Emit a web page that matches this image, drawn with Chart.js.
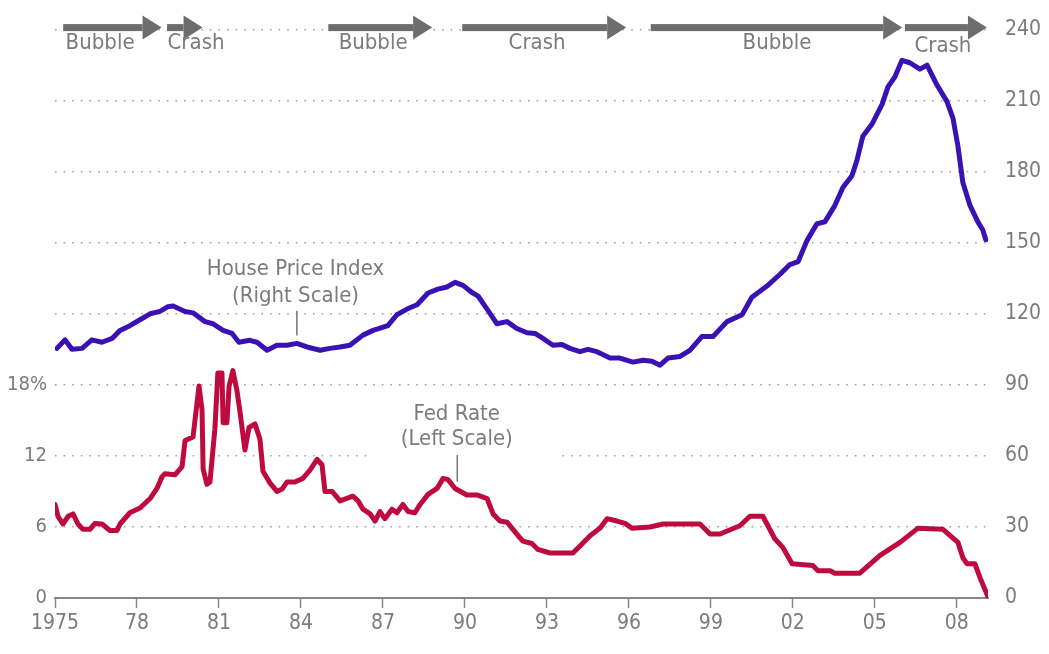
<!DOCTYPE html>
<html>
<head>
<meta charset="utf-8">
<script src="https://cdn.jsdelivr.net/npm/chart.js@4.4.1/dist/chart.umd.min.js"></script>
<style>
  body { margin: 0; background: #fff; }
  #wrap { width: 1049px; height: 654px; }
</style>
</head>
<body>
<div id="wrap"><canvas id="chart" width="1049" height="654"></canvas></div>
<script>
const tickYears = [1975, 1978, 1981, 1984, 1987, 1990, 1993, 1996, 1999, 2002, 2005, 2008];
const tickLabels = ["1975", "78", "81", "84", "87", "90", "93", "96", "99", "02", "05", "08"];
const leftTicks = [0, 6, 12, 18];
const leftTickLabels = ["0", "6", "12", "18%"];

// house price index, right scale
const hpiYears = [1975.07, 1975.37, 1975.62, 1975.99, 1976.35, 1976.72, 1977.09, 1977.38, 1977.74, 1978.11,
  1978.48, 1978.84, 1979.13, 1979.32, 1979.76, 1980.05, 1980.49, 1980.78, 1981.15, 1981.48,
  1981.73, 1982.13, 1982.39, 1982.76, 1983.12, 1983.49, 1983.85, 1984.22, 1984.70, 1985.06,
  1985.43, 1985.79, 1986.27, 1986.64, 1987.18, 1987.51, 1987.88, 1988.25, 1988.65, 1989.01,
  1989.34, 1989.64, 1989.93, 1990.26, 1990.48, 1990.81, 1991.17, 1991.54, 1991.90, 1992.27,
  1992.56, 1992.86, 1993.22, 1993.55, 1993.84, 1994.21, 1994.50, 1994.83, 1995.31, 1995.67,
  1996.15, 1996.52, 1996.84, 1997.14, 1997.43, 1997.87, 1998.23, 1998.67, 1999.08, 1999.59,
  2000.14, 2000.50, 2001.05, 2001.53, 2001.89, 2002.19, 2002.52, 2002.88, 2003.17, 2003.54,
  2003.83, 2004.16, 2004.34, 2004.56, 2004.89, 2005.26, 2005.48, 2005.73, 2005.99, 2006.28,
  2006.65, 2006.91, 2007.27, 2007.64, 2007.86, 2008.04, 2008.22, 2008.48, 2008.77, 2008.95, 2009.06];
const hpiValues = [105.4, 109, 105, 105.4, 109, 108, 109.6, 113, 115, 117.5,
  120, 121, 123, 123.3, 121, 120.4, 116.7, 115.8, 113, 111.7,
  108, 108.8, 108, 104.6, 106.7, 106.7, 107.5, 106, 104.6, 105.4,
  106, 106.7, 111, 113, 115, 119.6, 122, 123.8, 128.8, 130.4,
  131.3, 133.3, 132, 129, 127.5, 122, 115.8, 116.7, 113.8, 112,
  111.7, 109.6, 106.7, 107, 105.4, 104, 105, 104, 101.3, 101.3,
  99.6, 100.4, 100, 98.3, 101.3, 102, 104.6, 110.4, 110.4, 116.7,
  119.6, 127, 131.7, 136.7, 140.8, 142, 151, 158, 158.8, 165.8,
  173.3, 178.3, 184.6, 195, 200, 208.3, 215.8, 220, 227, 226,
  223.3, 225, 216.7, 209.6, 202.5, 190.8, 175.4, 165.8, 158.8, 155.4, 151.3];

// fed rate, left scale (%)
const fedYears = [1975.00, 1975.11, 1975.29, 1975.48, 1975.66, 1975.84, 1976.02, 1976.28, 1976.46, 1976.72,
  1977.01, 1977.27, 1977.38, 1977.74, 1978.11, 1978.48, 1978.73, 1978.92, 1979.02, 1979.39,
  1979.65, 1979.76, 1980.05, 1980.27, 1980.38, 1980.42, 1980.56, 1980.67, 1980.85, 1980.96,
  1981.11, 1981.15, 1981.29, 1981.37, 1981.51, 1981.66, 1981.77, 1981.95, 1982.10, 1982.32,
  1982.50, 1982.61, 1982.87, 1983.12, 1983.31, 1983.49, 1983.78, 1984.07, 1984.33, 1984.59,
  1984.77, 1984.88, 1985.14, 1985.43, 1985.90, 1986.09, 1986.27, 1986.53, 1986.71, 1986.89,
  1987.07, 1987.33, 1987.51, 1987.73, 1987.92, 1988.17, 1988.36, 1988.65, 1988.98, 1989.20,
  1989.38, 1989.64, 1990.07, 1990.44, 1990.81, 1991.03, 1991.28, 1991.54, 1991.90, 1992.12,
  1992.45, 1992.67, 1993.11, 1993.95, 1994.21, 1994.58, 1994.94, 1995.20, 1995.56, 1995.86,
  1996.11, 1996.77, 1997.25, 1998.60, 1998.97, 1999.33, 2000.06, 2000.43, 2000.90, 2001.34,
  2001.64, 2001.97, 2002.73, 2002.92, 2003.36, 2003.54, 2004.45, 2005.19, 2005.92, 2006.58,
  2007.49, 2008.04, 2008.22, 2008.37, 2008.66, 2008.85, 2009.14];
const fedValues = [7.9, 6.9, 6.25, 6.9, 7.1, 6.25, 5.8, 5.8, 6.3, 6.25,
  5.7, 5.7, 6.25, 7.2, 7.6, 8.4, 9.25, 10.25, 10.5, 10.4,
  11.1, 13.3, 13.6, 17.9, 15.9, 10.9, 9.6, 9.8, 14.25, 19,
  19, 14.8, 14.8, 17.9, 19.2, 17.5, 15.7, 12.5, 14.4, 14.7,
  13.4, 10.7, 9.7, 9.0, 9.2, 9.8, 9.8, 10.1, 10.8, 11.7,
  11.25, 9.0, 9.0, 8.2, 8.6, 8.2, 7.5, 7.1, 6.5, 7.3,
  6.7, 7.5, 7.2, 7.9, 7.3, 7.2, 7.9, 8.75, 9.25, 10.1,
  10.0, 9.25, 8.7, 8.7, 8.4, 7.1, 6.5, 6.4, 5.4, 4.8,
  4.6, 4.1, 3.8, 3.8, 4.4, 5.25, 5.9, 6.7, 6.5, 6.3,
  5.9, 6.0, 6.25, 6.25, 5.4, 5.4, 6.1, 6.9, 6.9, 5.0,
  4.25, 2.9, 2.75, 2.3, 2.3, 2.1, 2.1, 3.6, 4.7, 5.9,
  5.8, 4.7, 3.4, 2.9, 2.9, 1.7, 0.1];

// bubble / crash phases along the top
const phaseStarts = [1975.3, 1979.1, 1985.0, 1989.9, 1996.8, 2006.1];
const phaseEnds = [1978.9, 1980.4, 1988.8, 1995.9, 2006.0, 2009.1];
const phaseLabels = ["Bubble", "Crash", "Bubble", "Crash", "Bubble", "Crash"];
const phaseLabelYears = [1976.65, 1980.16, 1986.64, 1992.64, 2001.42, 2007.49];

const FONT = '"Liberation Sans Narrow", "DejaVu Sans Condensed", "Roboto", sans-serif';
const GREY = "#7b7b7b";

const annotations = {
  id: "annotations",
  beforeDatasetsDraw(chart) {
    const ctx = chart.ctx;
    const x = chart.scales.x, yR = chart.scales.yR;
    // white gap in the gridline behind the fed rate label
    ctx.save();
    ctx.fillStyle = "#fff";
    ctx.fillRect(x.getPixelForValue(1986.5), yR.getPixelForValue(62.5),
      x.getPixelForValue(1993.5) - x.getPixelForValue(1986.5), yR.getPixelForValue(56.7) - yR.getPixelForValue(62.5));
    ctx.restore();
  },
  afterDatasetsDraw(chart) {
    const ctx = chart.ctx;
    const x = chart.scales.x, yR = chart.scales.yR;
    ctx.save();
    // arrows
    const ay = yR.getPixelForValue(240) - 2;
    ctx.fillStyle = "#6d6d6d";
    for (let i = 0; i < phaseStarts.length; i++) {
      const xs = x.getPixelForValue(phaseStarts[i]);
      const xe = x.getPixelForValue(phaseEnds[i]);
      const head = 19;
      ctx.fillRect(xs, ay - 3.5, xe - head - xs, 7);
      ctx.beginPath();
      ctx.moveTo(xe - head, ay - 12);
      ctx.lineTo(xe, ay);
      ctx.lineTo(xe - head, ay + 12);
      ctx.closePath();
      ctx.fill();
    }
    ctx.font = "22px " + FONT;
    ctx.fillStyle = GREY;
    ctx.textAlign = "center";
    ctx.textBaseline = "middle";
    phaseLabels.forEach((t, i) => {
      ctx.fillText(t, x.getPixelForValue(phaseLabelYears[i]), i === 5 ? 46 : 43);
    });

    // series labels with pointers
    ctx.fillText("House Price Index", x.getPixelForValue(1983.8), yR.getPixelForValue(138.75));
    ctx.fillText("(Right Scale)", x.getPixelForValue(1983.8), yR.getPixelForValue(127.5));
    ctx.fillText("Fed Rate", x.getPixelForValue(1989.7), yR.getPixelForValue(77.5));
    ctx.fillText("(Left Scale)", x.getPixelForValue(1989.7), yR.getPixelForValue(67));
    ctx.strokeStyle = "#777";
    ctx.lineWidth = 1.5;
    ctx.beginPath();
    ctx.moveTo(x.getPixelForValue(1983.85), yR.getPixelForValue(121.3));
    ctx.lineTo(x.getPixelForValue(1983.85), yR.getPixelForValue(110.8));
    ctx.moveTo(x.getPixelForValue(1989.72), yR.getPixelForValue(60.4));
    ctx.lineTo(x.getPixelForValue(1989.72), yR.getPixelForValue(49.2));
    ctx.stroke();
    ctx.restore();
  },
};

const chart = new Chart(document.getElementById("chart"), {
  type: "line",
  data: {
    datasets: [
      {
        label: "House Price Index",
        data: hpiYears.map((v, i) => ({ x: v, y: hpiValues[i] })),
        yAxisID: "yR",
        borderColor: "#3a12b4",
        borderWidth: 5,
        pointRadius: 0,
        borderJoinStyle: "round",
        borderCapStyle: "round",
        tension: 0,
      },
      {
        label: "Fed Rate",
        data: fedYears.map((v, i) => ({ x: v, y: fedValues[i] })),
        yAxisID: "yL",
        borderColor: "#bf0a40",
        borderWidth: 5,
        pointRadius: 0,
        borderJoinStyle: "round",
        borderCapStyle: "round",
        tension: 0,
      },
    ],
  },
  options: {
    responsive: false,
    animation: false,
    layout: { padding: { top: 22, left: 0, right: 0, bottom: 0 } },
    plugins: { legend: { display: false }, tooltip: { enabled: false } },
    scales: {
      x: {
        type: "linear",
        min: 1975,
        max: 2009.14,
        afterBuildTicks: (s) => { s.ticks = tickYears.map((v) => ({ value: v })); },
        afterFit: (s) => { s.height = 56; },
        ticks: {
          autoSkip: false,
          maxRotation: 0,
          padding: 3,
          color: GREY,
          font: { family: FONT, size: 21 },
          callback: (v, i) => tickLabels[i],
        },
        grid: { drawOnChartArea: false, drawTicks: true, tickLength: 10, tickColor: "#888", tickWidth: 1.5 },
        border: { display: true, color: "#888", width: 2 },
      },
      yL: {
        position: "left",
        min: 0,
        max: 48,
        afterBuildTicks: (s) => { s.ticks = leftTicks.map((v) => ({ value: v })); },
        afterFit: (s) => { s.width = 55; },
        ticks: {
          padding: 8,
          color: GREY,
          font: { family: FONT, size: 20 },
          callback: (v, i) => leftTickLabels[i],
        },
        grid: { display: false, drawTicks: false },
        border: { display: false },
      },
      yR: {
        position: "right",
        min: 0,
        max: 240,
        afterFit: (s) => { s.width = 61; },
        ticks: {
          stepSize: 30,
          padding: 17,
          color: GREY,
          font: { family: FONT, size: 21 },
        },
        grid: {
          drawTicks: false,
          lineWidth: 1.6,
          color: (c) => (c.tick && c.tick.value === 0 ? "rgba(0,0,0,0)" : "#a0a0a0"),
        },
        border: { display: false, dash: [1.6, 7] },
      },
    },
  },
  plugins: [annotations],
});
</script>
</body>
</html>
